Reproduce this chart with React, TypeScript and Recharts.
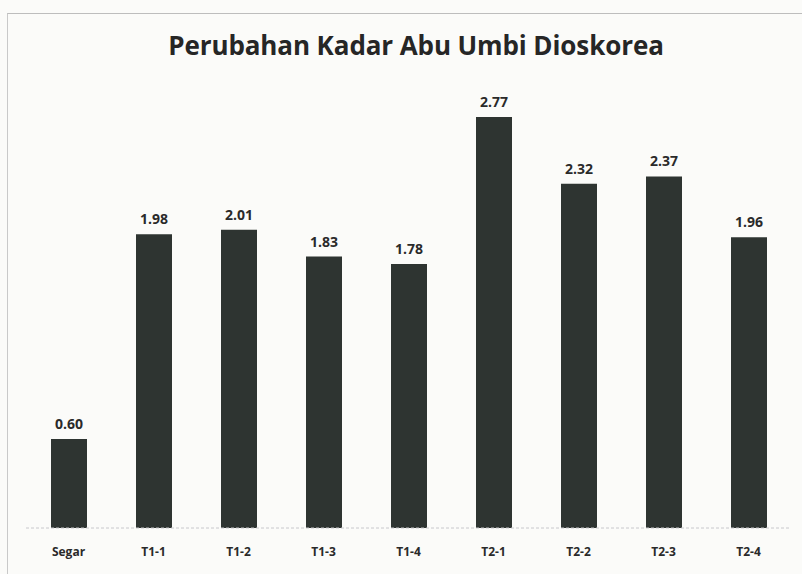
import React from 'react';
import { BarChart, Bar, XAxis, YAxis, LabelList } from 'recharts';

const categories = ['Segar', 'T1-1', 'T1-2', 'T1-3', 'T1-4', 'T2-1', 'T2-2', 'T2-3', 'T2-4'];
const ashValues = [0.6, 1.98, 2.01, 1.83, 1.78, 2.77, 2.32, 2.37, 1.96];

const data = categories.map((name, i) => ({ name, value: ashValues[i] }));

const font = '"Open Sans", "DejaVu Sans", sans-serif';

// x tick with the bold dark labels under each bar
const renderTick = (props: any) => {
  const { x, y, payload } = props;
  return (
    <text x={x} y={y + 20} textAnchor="middle" fontSize={12} fontWeight={700} fill="#2a2a2a" fontFamily={font}>
      {payload.value}
    </text>
  );
};

const App = () => {
  return (
    <div style={{ position: 'absolute', left: 0, top: 0, width: 802, height: 574, background: '#fbfbf9', fontFamily: font }}>
      <div style={{ position: 'absolute', left: 7, top: 13, right: 0, bottom: 0, borderLeft: '1px solid #c9c9c9', borderTop: '1px solid #bdbdbd' }} />
      <div style={{ position: 'absolute', left: 0, top: 27, width: 832, textAlign: 'center', fontSize: 26, fontWeight: 700, color: '#262626', letterSpacing: -0.1 }}>
        Perubahan Kadar Abu Umbi Dioskorea
      </div>
      <BarChart
        width={802}
        height={574}
        data={data}
        margin={{ top: 83, right: 11, left: 26, bottom: 16 }}
        barSize={36}
      >
        <YAxis hide domain={[0, 3]} />
        <XAxis
          dataKey="name"
          axisLine={{ stroke: '#c8c8cc', strokeDasharray: '3 2' }}
          tickLine={false}
          height={30}
          tick={renderTick}
        />
        <Bar dataKey="value" fill="#2e3431" isAnimationActive={false}>
          <LabelList
            dataKey="value"
            position="top"
            offset={10}
            formatter={(v: any) => Number(v).toFixed(2)}
            style={{ fontSize: 14, fontWeight: 700, fill: '#2a2a2a', fontFamily: font }}
          />
        </Bar>
      </BarChart>
    </div>
  );
};

export default App;
